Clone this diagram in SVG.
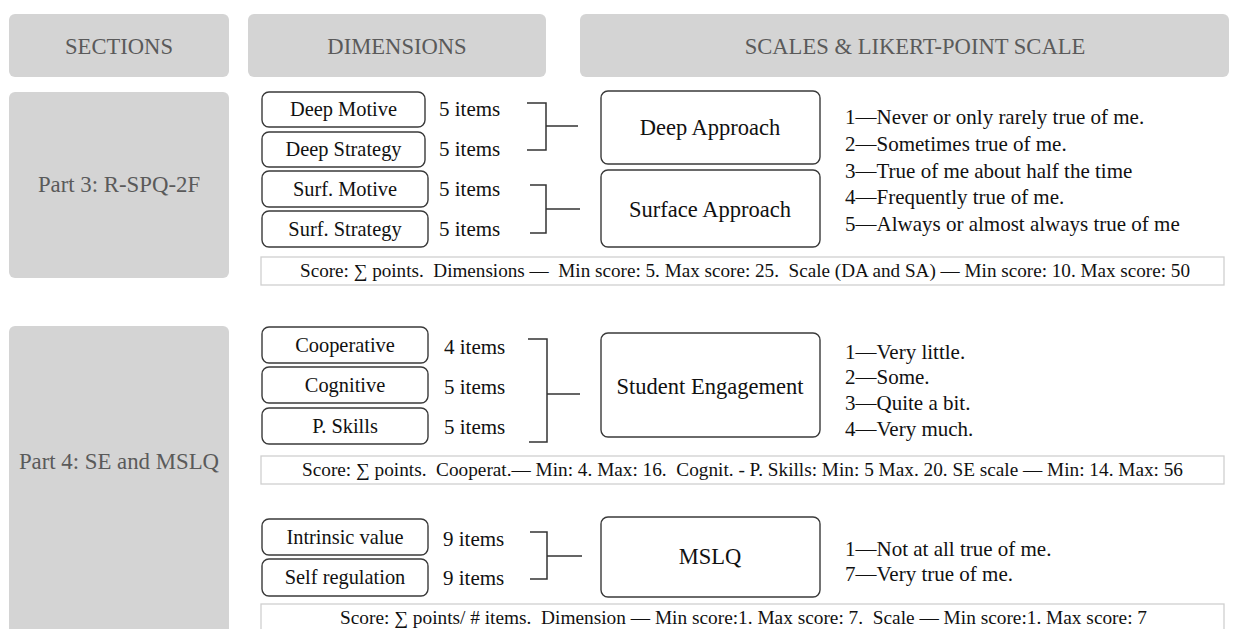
<svg xmlns="http://www.w3.org/2000/svg" width="1239" height="629" viewBox="0 0 1239 629">
<style>
text{font-family:'Liberation Serif','Times New Roman',Times,'DejaVu Serif',serif}
.hdr{fill:#d4d4d4}
.hdrt{font-size:22.6px;fill:#5a5a5a;text-anchor:middle}
.sect{font-size:22.8px;fill:#5a5a5a;text-anchor:middle}
.dim{fill:#fff;stroke:#3a3a3a;stroke-width:1.4}
.dimt{font-size:20.4px;fill:#111;text-anchor:middle}
.it{font-size:21px;fill:#111}
.sc{fill:#fff;stroke:#3a3a3a;stroke-width:1.4}
.sct{font-size:22.5px;fill:#111;text-anchor:middle}
.lk{font-size:21px;fill:#111}
.scb{fill:#fff;stroke:#d0d0d0;stroke-width:1.3}
.sbt{font-size:18.5px;fill:#111;text-anchor:middle;white-space:pre}
.br{fill:none;stroke:#333;stroke-width:1.5}
</style>
<rect width="1239" height="629" fill="#fff"/>
<g id="header-sections"><rect class="hdr" x="9" y="14" width="220" height="63" rx="6"/><text class="hdrt" x="119" y="54">SECTIONS</text></g>
<g id="header-dimensions"><rect class="hdr" x="248" y="14" width="298" height="63" rx="6"/><text class="hdrt" x="397" y="54">DIMENSIONS</text></g>
<g id="header-scales"><rect class="hdr" x="580" y="14" width="649" height="63" rx="6"/><text class="hdrt" x="915" y="54">SCALES &amp; LIKERT-POINT SCALE</text></g>

<g id="part3"><rect class="hdr" x="9" y="92" width="220" height="186" rx="6"/><text class="sect" x="119" y="192">Part 3: R-SPQ-2F</text></g>
<g id="part4"><rect class="hdr" x="9" y="326" width="220" height="320" rx="6"/><text class="sect" x="119" y="469">Part 4: SE and MSLQ</text></g>

<g id="deep-motive"><rect class="dim" x="262" y="92" width="163" height="35" rx="7"/><text class="dimt" x="343.5" y="116">Deep Motive</text><text class="it" x="439" y="116">5 items</text></g>
<g id="deep-strategy"><rect class="dim" x="262" y="132" width="163" height="35" rx="7"/><text class="dimt" x="343.5" y="156">Deep Strategy</text><text class="it" x="439" y="156">5 items</text></g>
<g id="surf-motive"><rect class="dim" x="262" y="171" width="166" height="36" rx="7"/><text class="dimt" x="345" y="196">Surf. Motive</text><text class="it" x="439" y="196">5 items</text></g>
<g id="surf-strategy"><rect class="dim" x="262" y="211" width="166" height="36" rx="7"/><text class="dimt" x="345" y="236">Surf. Strategy</text><text class="it" x="439" y="236">5 items</text></g>

<g id="deep-approach"><rect class="sc" x="601" y="91" width="219" height="73" rx="7"/><text class="sct" x="710" y="135">Deep Approach</text></g>
<g id="surface-approach"><rect class="sc" x="601" y="170" width="219" height="77" rx="7"/><text class="sct" x="710" y="217">Surface Approach</text></g>
<g id="likert-rspq">
<text class="lk" x="845" y="124">1—Never or only rarely true of me.</text>
<text class="lk" x="845" y="151">2—Sometimes true of me.</text>
<text class="lk" x="845" y="177.5">3—True of me about half the time</text>
<text class="lk" x="845" y="204">4—Frequently true of me.</text>
<text class="lk" x="845" y="231">5—Always or almost always true of me</text>
</g>
<g id="score-rspq"><rect class="scb" x="261" y="257" width="963" height="28"/><text class="sbt" x="745" y="277" textLength="890" lengthAdjust="spacingAndGlyphs">Score: ∑ points.  Dimensions —  Min score: 5. Max score: 25.  Scale (DA and SA) — Min score: 10. Max score: 50</text></g>

<g id="cooperative"><rect class="dim" x="262" y="327" width="166" height="36" rx="7"/><text class="dimt" x="345" y="352">Cooperative</text><text class="it" x="444" y="354">4 items</text></g>
<g id="cognitive"><rect class="dim" x="262" y="367" width="166" height="36" rx="7"/><text class="dimt" x="345" y="392">Cognitive</text><text class="it" x="444" y="394">5 items</text></g>
<g id="p-skills"><rect class="dim" x="262" y="408" width="166" height="36" rx="7"/><text class="dimt" x="345" y="433">P. Skills</text><text class="it" x="444" y="434">5 items</text></g>
<g id="student-engagement"><rect class="sc" x="601" y="333" width="219" height="104" rx="7"/><text class="sct" x="710" y="394">Student Engagement</text></g>
<g id="likert-se">
<text class="lk" x="845" y="359">1—Very little.</text>
<text class="lk" x="845" y="384">2—Some.</text>
<text class="lk" x="845" y="410">3—Quite a bit.</text>
<text class="lk" x="845" y="436">4—Very much.</text>
</g>
<g id="score-se"><rect class="scb" x="261" y="456" width="963" height="28"/><text class="sbt" x="742.5" y="476" textLength="881" lengthAdjust="spacingAndGlyphs">Score: ∑ points.  Cooperat.— Min: 4. Max: 16.  Cognit. - P. Skills: Min: 5 Max. 20. SE scale — Min: 14. Max: 56</text></g>

<g id="intrinsic-value"><rect class="dim" x="262" y="519" width="166" height="36" rx="7"/><text class="dimt" x="345" y="544">Intrinsic value</text><text class="it" x="443" y="546">9 items</text></g>
<g id="self-regulation"><rect class="dim" x="262" y="559" width="166" height="37" rx="7"/><text class="dimt" x="345" y="584">Self regulation</text><text class="it" x="443" y="585">9 items</text></g>
<g id="mslq"><rect class="sc" x="601" y="517" width="219" height="80" rx="7"/><text class="sct" x="710" y="564">MSLQ</text></g>
<g id="likert-mslq">
<text class="lk" x="845" y="556">1—Not at all true of me.</text>
<text class="lk" x="845" y="581">7—Very true of me.</text>
</g>
<g id="score-mslq"><rect class="scb" x="261" y="604" width="963" height="40"/><text class="sbt" x="743.5" y="624" textLength="807" lengthAdjust="spacingAndGlyphs">Score: ∑ points/ # items.  Dimension — Min score:1. Max score: 7.  Scale — Min score:1. Max score: 7</text></g>

<g id="connectors">
<path class="br" d="M527 103H546V150H527M546 126H578"/>
<path class="br" d="M530 185H546V233H530M546 209H580"/>
<path class="br" d="M528 339H547V442H529M547 394H580"/>
<path class="br" d="M530 532H547V579H530M547 556H582"/>
</g>
</svg>
